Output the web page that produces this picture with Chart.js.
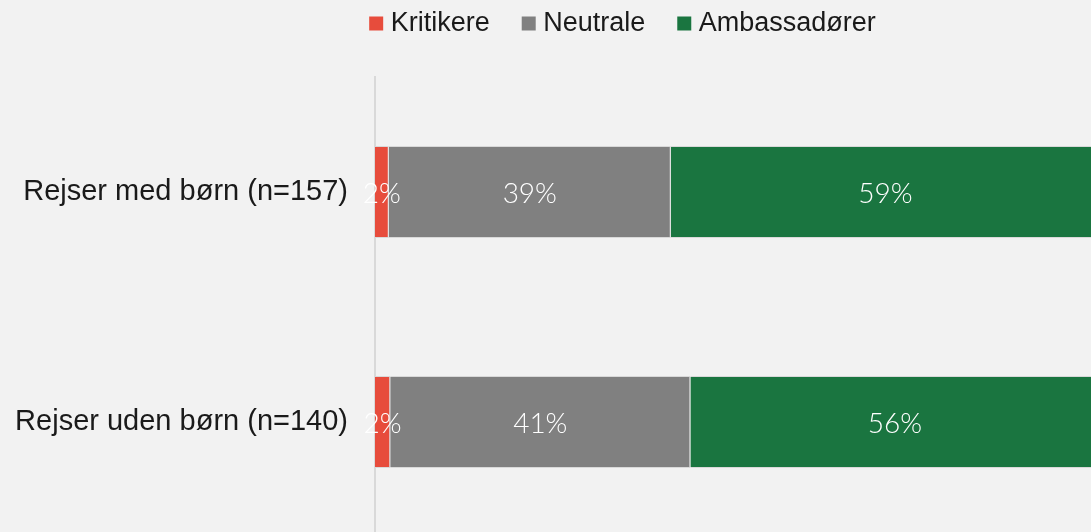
<!DOCTYPE html>
<html>
<head>
<meta charset="utf-8">
<script src="https://cdn.jsdelivr.net/npm/chart.js@4/dist/chart.umd.min.js"></script>
<style>
  html, body { margin: 0; padding: 0; background: #f2f2f2; overflow: hidden; }
  #wrap { width: 1091px; height: 537px; position: relative; }
</style>
</head>
<body>
<div id="wrap"><canvas id="chart"></canvas></div>
<script>
// categories and shares (%)
const categories = ["Rejser med børn (n=157)", "Rejser uden børn (n=140)"];
const kritikere = [1.9, 2.1];
const neutrale = [38.9, 41.4];
const ambassadorer = [59.2, 56.4];

const seriesNames = ["Kritikere", "Neutrale", "Ambassadører"];
const seriesColors = ["#e74c3c", "#808080", "#1a7540"];

// legend: fixed height + nudge into place
const legendPlace = {
  id: "legendPlace",
  beforeLayout(chart) {
    const lg = chart.legend;
    if (!lg || lg._patched) return;
    const fit = lg.fit;
    lg.fit = function () { fit.call(this); this.height = 77; };
    lg._patched = true;
  },
  afterLayout(chart) {
    const lg = chart.legend;
    lg.left += 80; lg.right += 80;
    lg.top -= 28; lg.bottom -= 28;
  }
};

// percent labels centred on each segment
const segLabels = {
  id: "segLabels",
  afterDatasetsDraw(chart) {
    const ctx = chart.ctx;
    ctx.save();
    ctx.font = "300 28px Lato";
    ctx.fillStyle = "#ffffff";
    ctx.textAlign = "center";
    ctx.textBaseline = "middle";
    chart.data.datasets.forEach((ds, i) => {
      chart.getDatasetMeta(i).data.forEach((bar, j) => {
        const x = (bar.x + bar.base) / 2;
        ctx.fillText(Math.round(ds.data[j]) + "%", x, bar.y + 1.5);
      });
    });
    ctx.restore();
  }
};

const dataSets = [kritikere, neutrale, ambassadorer].map((d, i) => ({
  label: seriesNames[i],
  data: d,
  backgroundColor: seriesColors[i],
  borderColor: "#d9d9d9",
  borderWidth: 1,
  categoryPercentage: 1,
  barPercentage: 0.4
}));

new Chart(document.getElementById("chart"), {
  type: "bar",
  data: { labels: categories, datasets: dataSets },
  options: {
    indexAxis: "y",
    responsive: true,
    maintainAspectRatio: false,
    animation: false,
    layout: { padding: 0, autoPadding: false },
    plugins: {
      tooltip: { enabled: false },
      legend: {
        position: "top",
        labels: {
          boxWidth: 2,
          boxHeight: 2,
          padding: 38,
          color: "#1a1a1a",
          font: { family: "'Liberation Sans', Arial", size: 27 },
          // thick stroke makes a 14px square sitting close to the text
          generateLabels(chart) {
            return Chart.defaults.plugins.legend.labels.generateLabels(chart)
              .map(l => ({ ...l, strokeStyle: l.fillStyle, lineWidth: 12 }));
          }
        }
      }
    },
    scales: {
      x: { stacked: true, display: false, min: 0, max: 98.76 },
      y: {
        stacked: true,
        afterFit(scale) {
          scale.width = 375;
          scale.paddingTop = 0;
          scale.paddingBottom = 0;
        },
        grid: { display: false, drawTicks: false },
        border: { display: true, color: "#d9d9d9", width: 2 },
        ticks: {
          color: "#1a1a1a",
          padding: 27,
          font: { family: "'Liberation Sans', Arial", size: 29 }
        }
      }
    }
  },
  plugins: [legendPlace, segLabels]
});
</script>
</body>
</html>
